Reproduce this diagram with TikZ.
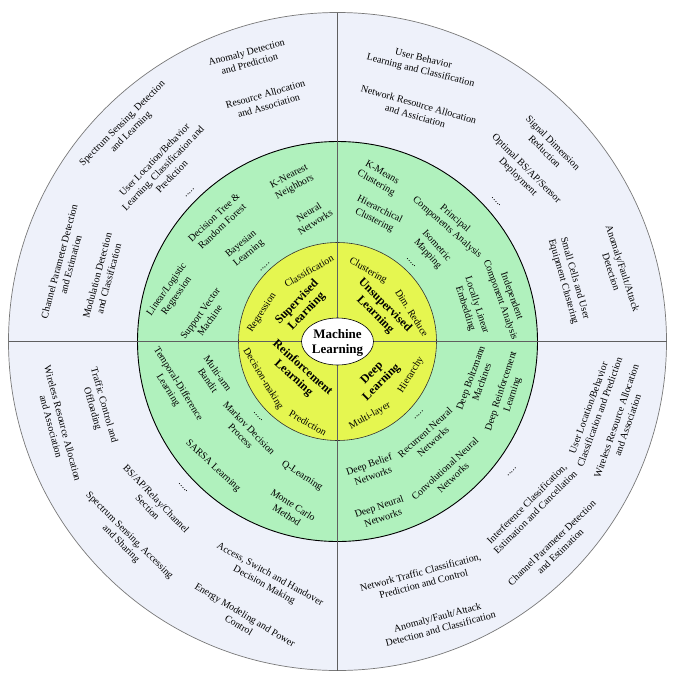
\documentclass[tikz,border=0pt]{standalone}
\usepackage{fontspec}
\setmainfont{Liberation Serif}
\usetikzlibrary{shapes.geometric}
\definecolor{outerbg}{RGB}{238,241,250}
\definecolor{ringgreen}{RGB}{176,241,189}
\definecolor{coreyellow}{RGB}{229,246,80}
\definecolor{rimgray}{RGB}{120,120,120}
\definecolor{crossgray}{RGB}{95,95,95}
\begin{document}
\begin{tikzpicture}[x=1pt,y=-1pt,
  lbl/.style={align=center,inner sep=0pt,font=\fontsize{10}{12}\selectfont,text=black},
  boldlbl/.style={align=center,inner sep=0pt,font=\fontsize{12}{13.5}\selectfont\bfseries,text=black},
  dotlbl/.style={inner sep=0pt,font=\fontsize{10}{12}\selectfont,text=black}]
\useasboundingbox (0,0) rectangle (678,681);
\coordinate (C) at (337.5,341.5);
\coordinate (N) at (337.5,12.5);
\coordinate (S) at (337.5,670.5);
\coordinate (W) at (8.5,341.5);
\coordinate (E) at (666.5,341.5);
% rings
\filldraw[fill=outerbg, draw=rimgray, line width=0.7pt] (C) circle (329pt);
\filldraw[fill=ringgreen, draw=black, line width=0.9pt] (C) circle (200pt);
\filldraw[fill=coreyellow, draw=black!80, line width=0.6pt] (C) circle (99pt);
\draw[crossgray, line width=0.7pt] (N) -- (S);
\draw[crossgray, line width=0.7pt] (W) -- (E);
\node[ellipse, draw=black, fill=white, line width=0.6pt, minimum width=72pt, minimum height=47pt, inner sep=0pt] (ml) at (C) {};
\node[align=center, inner sep=0pt, font=\fontsize{13}{15}\selectfont\bfseries] (mltxt) at (337.5,342.5) {Machine\\Learning};

% ---- core (yellow) ----
\node[boldlbl, rotate=46] (sup) at (302,307) {Supervised\\Learning};
\node[lbl, rotate=30] (ycls) at (309,271) {Classification};
\node[lbl, rotate=57] (yreg) at (262,313) {Regression};
\node[boldlbl, rotate=-45] (unsup) at (380,310) {Unsupervised\\Learning};
\node[lbl, rotate=-30] (yclu) at (368,271) {Clustering};
\node[lbl, rotate=-58] (ydim) at (412,313) {Dim. Reduce};
\node[boldlbl, rotate=-42] (rl) at (298,373) {Reinforcement\\Learning};
\node[lbl, rotate=-59] (ydec) at (263,379) {Decision-making};
\node[lbl, rotate=-30] (ypre) at (308,423) {Prediction};
\node[boldlbl, rotate=45] (dl) at (377,378) {Deep\\Learning};
\node[lbl, rotate=58] (yhie) at (411,375) {Hierarchy};
\node[lbl, rotate=29] (ymul) at (370,416) {Multi-layer};

% ---- green ring ----
% supervised
\node[lbl, rotate=28] (g22) at (292,182) {K-Nearest\\Neighbors};
\node[lbl, rotate=32] (g23) at (312,217) {Neural\\Networks};
\node[lbl, rotate=43] (g24) at (218,222) {Decision Tree \&\\Random Forest};
\node[lbl, rotate=40] (g25) at (245,249) {Bayesian\\Learning};
\node[dotlbl, rotate=40] (g26) at (265,267) {.....};
\node[lbl, rotate=55] (g27) at (172,293) {Linear/Logistic\\Regression};
\node[lbl, rotate=54] (g28) at (205,317) {Support Vector\\Machine};
% unsupervised
\node[lbl, rotate=-30] (g1) at (379,178) {K-Means\\Clustering};
\node[lbl, rotate=-41] (g2) at (451,223) {Principal\\Components Analysis};
\node[lbl, rotate=-27] (g3) at (377,215) {Hierarchical\\Clustering};
\node[lbl, rotate=-48] (g4) at (432,250) {Isometric\\Mapping};
\node[dotlbl, rotate=-45] (g5) at (411,263) {.....};
\node[lbl, rotate=-72] (g6) at (471,307) {Locally Linear\\Embedding};
\node[lbl, rotate=-70] (g7) at (506,298) {Independent\\Component Analysis};
% reinforcement
\node[lbl, rotate=-58] (g8) at (173,387) {Temporal-Difference\\Learning};
\node[lbl, rotate=-55] (g9) at (213,377) {Multi-arm\\Bandit};
\node[lbl, rotate=-46] (g10) at (245,432) {Markov Decision\\Process};
\node[dotlbl, rotate=-45] (g11) at (258,417) {.....};
\node[lbl, rotate=-43] (g12) at (213,466) {SARSA Learning};
\node[lbl, rotate=-33] (g13) at (302,476) {Q-Learning};
\node[lbl, rotate=-33] (g14) at (290,510) {Monte Carlo\\Method};
% deep
\node[lbl, rotate=70] (g15) at (476,380) {Deep Boltzmann\\Machines};
\node[lbl, rotate=72] (g16) at (507,393) {Deep Reinforcement\\Learning};
\node[lbl, rotate=42] (g17) at (429,437) {Recurrent Neural\\Networks};
\node[dotlbl, rotate=45] (g18) at (419,415) {.....};
\node[lbl, rotate=20] (g19) at (371,470) {Deep Belief\\Networks};
\node[lbl, rotate=43] (g20) at (449,473) {Convolutional Neural\\Networks};
\node[lbl, rotate=19] (g21) at (381,512) {Deep Neural\\Networks};

% ---- outer ring ----
% upper left
\node[lbl, rotate=15] (o1) at (248,58) {Anomaly Detection\\and Prediction};
\node[lbl, rotate=16] (o2) at (267,100) {Resource Allocation\\and Association};
\node[lbl, rotate=45] (o3) at (127,128) {Spectrum Sensing, Detection\\and Learning};
\node[lbl, rotate=46] (o4) at (163,168) {User Location/Behavior\\Learning, Classification and\\Prediction};
\node[dotlbl, rotate=45] (o5) at (190,193) {.....};
\node[lbl, rotate=75] (o6) at (65,263) {Channel Parameter Detection\\and Estimation};
\node[lbl, rotate=75] (o7) at (103,277) {Modulation Detection\\and Classification};
% upper right
\node[lbl, rotate=-14] (o8) at (422,65) {User Behavior\\Learning and Classification};
\node[lbl, rotate=-16] (o9) at (417,110) {Network Resource Allocation\\and Assiciation};
\node[lbl, rotate=-45] (o10) at (549,147) {Signal Dimension\\Reduction};
\node[lbl, rotate=-45] (o11) at (522,173) {Optimal BS/AP/Sensor\\Deployment};
\node[dotlbl, rotate=-45] (o12) at (496,202) {.....};
\node[lbl, rotate=-72] (o13) at (617,270) {Anomaly/Fault/Attack\\Detection};
\node[lbl, rotate=-74] (o14) at (569,280) {Small Cells and User\\Equipment Clustering};
% lower left
\node[lbl, rotate=-75] (o15) at (57,425) {Wireless Resource Allocation\\and Association};
\node[lbl, rotate=-74] (o16) at (98,407) {Traffic Control and\\Offloading};
\node[lbl, rotate=-46] (o17) at (152,503) {BS/AP/Relay/Channel\\Section};
\node[dotlbl, rotate=-45] (o18) at (183,488) {.....};
\node[lbl, rotate=-45] (o19) at (125,540) {Spectrum Sensing, Accessing\\and Sharing};
\node[lbl, rotate=-29] (o20) at (267,580) {Access, Switch and Handover\\Decision Making};
\node[lbl, rotate=-31] (o21) at (242,620) {Energy Modeling and Power\\Control};
% lower right
\node[lbl, rotate=70] (o22) at (594,410) {User Location/Behavior\\Classification and Prediction};
\node[lbl, rotate=71] (o23) at (622,423) {Wireless Resource Allocation\\and Association};
\node[lbl, rotate=45] (o24) at (531,508) {Interference Classification,\\Estimation and Cancellation};
\node[dotlbl, rotate=45] (o25) at (512,472) {.....};
\node[lbl, rotate=44] (o26) at (556,547) {Channel Parameter Detection\\and Estimation};
\node[lbl, rotate=15] (o27) at (422,578) {Network Traffic Classification,\\Prediction and Control};
\node[lbl, rotate=15] (o28) at (439,623) {Anomaly/Fault/Attack\\Detection and Classification};
\end{tikzpicture}
\end{document}
